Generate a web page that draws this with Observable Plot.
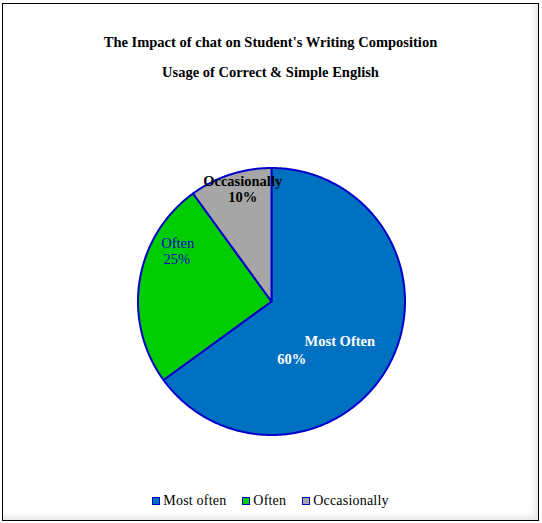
<!DOCTYPE html>
<html>
<head>
<meta charset="utf-8">
<script src="https://cdn.jsdelivr.net/npm/d3@7"></script>
<script src="https://cdn.jsdelivr.net/npm/@observablehq/plot@0.6"></script>
<style>
  html, body { margin: 0; padding: 0; background: #fff; }
  #frame {
    position: absolute; left: 2px; top: 3px; width: 535px; height: 516px;
    border: 1px solid #000; background: #fff;
    box-shadow: inset -5px -5px 6px -2px #e4e4e4;
    font-family: "Liberation Serif", serif;
  }
  .title { position: absolute; left: 0; width: 100%; text-align: center; font-weight: bold; font-size: 14.5px; color: #000; font-family: "Liberation Serif", serif; }
  #plot { position: absolute; }
  #legend { position: absolute; top: 489px; left: 0; width: 100%; text-align: center; font-size: 14px; letter-spacing: 0.2px; font-family: "Liberation Serif", serif; }
  #legend span.item { display: inline-flex; align-items: center; margin: 0 8px; }
  #legend span.sw { display: inline-block; width: 6px; height: 6px; border: 1.5px solid #0000CC; margin-right: 3px; }
</style>
</head>
<body>
<div id="frame">
  <div class="title" id="t1" style="top:30px"></div>
  <div class="title" id="t2" style="top:60px"></div>
  <div id="plot"></div>
  <div id="legend"></div>
</div>
<script>
// ---- data ----
const title = "The Impact of chat on Student's Writing Composition";
const subtitle = "Usage of Correct & Simple English";
const categories = ["Most Often", "Often", "Occasionally"];
const legendLabels = ["Most often", "Often", "Occasionally"];
const values = [65, 25, 10];               // slice sizes as drawn
const percentLabels = ["60%", "25%", "10%"]; // label text as printed
const colors = ["#0070C0", "#00CC00", "#A6A6A6"];

// ---- layout / style ----
const R = 133.5, size = 300;
const half = (size / 2) / R;
const labelStyle = [
  {r: 0.65, dx1: -9, dy1: 0, dx2: -57, dy2: 18, fill: "#fff", weight: "bold"},
  {r: 0.65, dx1: -8, dy1: -45, dx2: -9, dy2: -29, fill: "#0000CC", weight: "normal"},
  {r: 0.65, dx1: -2, dy1: -38, dx2: -2, dy2: -22, fill: "#000", weight: "bold"}
];

document.getElementById("t1").textContent = title;
document.getElementById("t2").textContent = subtitle;

const arcs = d3.pie().sort(null).value(d => d)(values);
const pt = (a, r) => ({x: r * Math.sin(a), y: r * Math.cos(a)}); // y up

const marks = [];
arcs.forEach((a, i) => {
  const pts = [{x: 0, y: 0}];
  const n = Math.max(2, Math.ceil((a.endAngle - a.startAngle) / (Math.PI / 360)));
  for (let k = 0; k <= n; k++) pts.push(pt(a.startAngle + (a.endAngle - a.startAngle) * k / n, 1));
  marks.push(Plot.line(pts, {x: "x", y: "y", curve: "linear-closed", fill: colors[i], stroke: "#0000CC", strokeWidth: 2, strokeLinejoin: "round"}));
});
arcs.forEach((a, i) => {
  const s = labelStyle[i];
  const c = pt((a.startAngle + a.endAngle) / 2, s.r);
  const common = {x: "x", y: "y", fill: s.fill, fontWeight: s.weight, fontSize: 14.5, fontFamily: "Liberation Serif", textAnchor: "middle"};
  marks.push(Plot.text([{...c, t: categories[i]}], {...common, text: "t", dx: s.dx1, dy: s.dy1}));
  marks.push(Plot.text([{...c, t: percentLabels[i]}], {...common, text: "t", dx: s.dx2, dy: s.dy2}));
});

const chart = Plot.plot({
  width: size, height: size, margin: 0,
  x: {domain: [-half, half], axis: null},
  y: {domain: [-half, half], axis: null},
  style: {background: "transparent", overflow: "visible"},
  marks
});
const holder = document.getElementById("plot");
holder.style.left = (271 - 3 - size / 2) + "px";
holder.style.top = (300.5 - 4 - size / 2) + "px";
holder.appendChild(chart);

const leg = document.getElementById("legend");
legendLabels.forEach((l, i) => {
  const item = document.createElement("span");
  item.className = "item";
  const sw = document.createElement("span");
  sw.className = "sw"; sw.style.background = colors[i];
  item.appendChild(sw);
  item.appendChild(document.createTextNode(l));
  leg.appendChild(item);
});
</script>
</body>
</html>
